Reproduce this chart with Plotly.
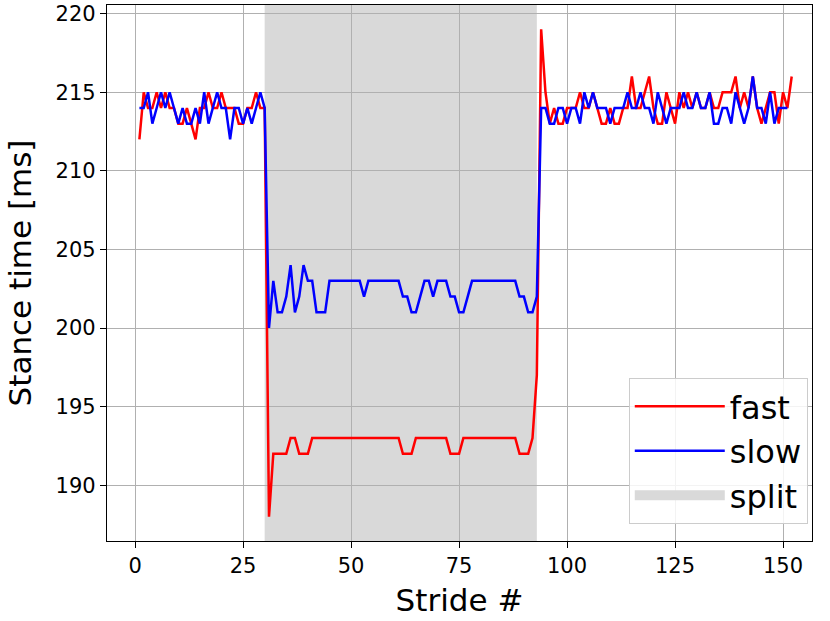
"""
 Stance time per stride for the fast and slow belts, with the split phase shaded
"""

# imports
from plotly.graph_objects import Scatter, Figure

# stride data (ms)
fast_pre = [212, 215, 214, 214, 215, 214, 215, 214, 214, 213,
            213, 214, 213, 212, 214, 214, 215, 214, 214, 215,
            214, 214, 214, 213, 213, 214, 214, 215, 214, 214]
fast_split = [188, 192, 192, 192, 192, 193, 193, 192, 192, 192,
              193, 193, 193, 193, 193, 193, 193, 193, 193, 193,
              193, 193, 193, 193, 193, 193, 193, 193, 193, 193,
              193, 192, 192, 192, 193, 193, 193, 193, 193, 193,
              193, 193, 192, 192, 192, 193, 193, 193, 193, 193,
              193, 193, 193, 193, 193, 193, 193, 193, 192, 192,
              192, 193, 197]
fast_post = [219, 215, 213, 214, 213, 213, 214, 214, 214, 215,
             214, 214, 215, 214, 213, 213, 214, 213, 213, 214,
             214, 216, 214, 214, 215, 216, 214, 213, 213, 215,
             214, 213, 215, 214, 215, 214, 215, 214, 214, 215,
             214, 214, 215, 215, 215, 216, 214, 215, 214, 216,
             214, 213, 214, 215, 215, 213, 215, 214, 216]

slow_pre = [214, 214, 215, 213, 214, 215, 214, 215, 214, 213,
            214, 213, 213, 214, 213, 215, 213, 214, 215, 214,
            214, 212, 214, 214, 213, 214, 213, 214, 215, 214]
slow_split = [200, 203, 201, 201, 202, 204, 201, 202, 204, 203,
              203, 201, 201, 201, 203, 203, 203, 203, 203, 203,
              203, 203, 202, 203, 203, 203, 203, 203, 203, 203,
              203, 202, 202, 201, 201, 202, 203, 203, 202, 203,
              203, 203, 202, 202, 201, 201, 202, 203, 203, 203,
              203, 203, 203, 203, 203, 203, 203, 203, 202, 202,
              201, 201, 202]
slow_post = [214, 214, 213, 213, 214, 214, 213, 214, 214, 213,
             215, 214, 215, 214, 214, 214, 213, 214, 214, 214,
             215, 214, 214, 215, 214, 214, 213, 215, 214, 213,
             214, 214, 214, 215, 214, 214, 215, 214, 214, 215,
             213, 213, 214, 214, 213, 215, 214, 213, 214, 216,
             214, 214, 213, 215, 213, 214, 214, 214]

split_start = 30
split_end = 93

SPLIT_GREY = "#d9d9d9"


def main():
    """
     builds the figure and writes it to out.html
    """
    fast = fast_pre + fast_split + fast_post
    slow = slow_pre + slow_split + slow_post
    x_fast = list(range(1, len(fast) + 1))
    x_slow = list(range(1, len(slow) + 1))

    fig = Figure()
    fig.add_trace(Scatter(x=x_fast, y=fast, mode="lines", name="fast",
                          line=dict(color="#ff0000", width=2.5)))
    fig.add_trace(Scatter(x=x_slow, y=slow, mode="lines", name="slow",
                          line=dict(color="#0000ff", width=2.5)))
    # legend entry only, the shaded band itself is a shape
    fig.add_trace(Scatter(x=[None], y=[None], mode="lines", name="split",
                          line=dict(color=SPLIT_GREY, width=18)))
    fig.add_vrect(x0=split_start, x1=split_end, fillcolor=SPLIT_GREY,
                  opacity=1, line_width=0, layer="below")

    axis = dict(showline=True, linecolor="black", linewidth=1.2, mirror=True,
                ticks="outside", ticklen=6, tickcolor="black",
                showgrid=True, gridcolor="#b0b0b0", gridwidth=1,
                zeroline=False, automargin=False,
                tickfont=dict(size=21, color="black"))
    fig.update_layout(
        width=830, height=621,
        margin=dict(l=107, r=18, t=5, b=80),
        plot_bgcolor="rgba(0,0,0,0)", paper_bgcolor="white",
        font=dict(family="DejaVu Sans", color="black"),
        xaxis=dict(axis, range=[-6.5, 156.7], tickvals=[0, 25, 50, 75, 100, 125, 150],
                   title=dict(text="Stride #", font=dict(size=31), standoff=12)),
        yaxis=dict(axis, range=[186.45, 220.55], tickvals=[190, 195, 200, 205, 210, 215, 220],
                   title=dict(text="Stance time [ms]", font=dict(size=31), standoff=14)),
        legend=dict(x=0.994, y=0.032, xanchor="right", yanchor="bottom",
                    bgcolor="rgba(255,255,255,0.85)", bordercolor="#cccccc", borderwidth=1,
                    font=dict(size=32), itemwidth=90),
    )
    # drop the default 8px body margin of the page
    fig.write_html("out.html", config={"displayModeBar": False},
                   post_script="document.body.style.margin = '0';")


if __name__ == "__main__":
    main()
